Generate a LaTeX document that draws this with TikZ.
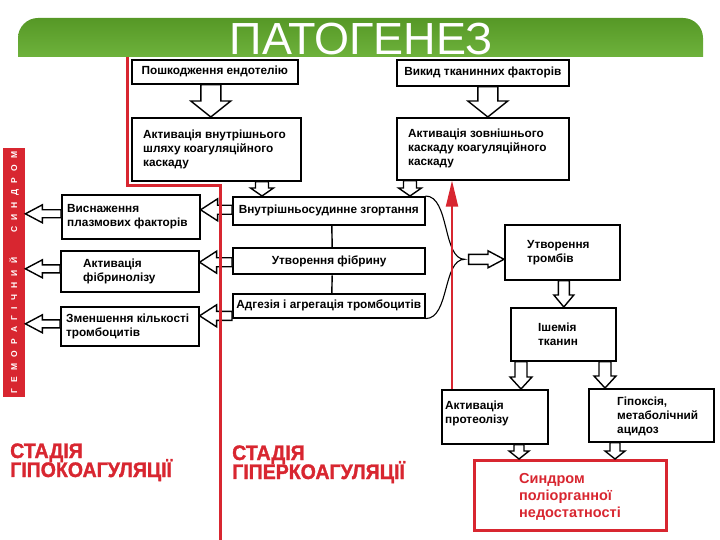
\documentclass[tikz,border=0pt]{standalone}
\usepackage{fontspec}
\setmainfont{Liberation Sans}
\newfontfamily\narrowbold[FakeStretch=0.93, FakeBold=1.5]{Liberation Sans Bold}
\usetikzlibrary{calc,arrows.meta}
\definecolor{rd}{RGB}{216,38,48}
\definecolor{gtop}{RGB}{86,152,38}
\definecolor{gbot}{RGB}{110,178,60}
\tikzset{
  bx/.style={draw, line width=1.6pt, anchor=north west, inner sep=0pt,
    font=\bfseries\fontsize{11.8}{14}\selectfont},
  btxt/.style={anchor=west, align=left, inner sep=0pt,
    font=\bfseries\fontsize{11.8}{14}\selectfont},
  holl/.style={draw, fill=white, line width=1.4pt, line join=miter},
  stage/.style={anchor=base west, inner sep=0pt, text=rd,
    font=\narrowbold\fontsize{21}{21}\selectfont},
  redline/.style={draw=rd, line width=3pt},
}
\newcommand\hollowshape[3]{%
  \path ($(hB)!#3!(hA)$) coordinate (hH);
  \draw[holl] ($(hA)!#1!90:(hB)$) -- ($(hH)!#1!90:(hB)$) -- ($(hH)!#2!90:(hB)$)
    -- (hB) -- ($(hH)!#2!-90:(hB)$) -- ($(hH)!#1!-90:(hB)$) -- ($(hA)!#1!-90:(hB)$) -- cycle;}
\newcommand\harrv[5]{\path #1 coordinate (hA); \path (hA |- #2) coordinate (hB); \hollowshape{#3}{#4}{#5}}
\newcommand\harrh[5]{\path #1 coordinate (hA); \path (hA -| #2) coordinate (hB); \hollowshape{#3}{#4}{#5}}
\begin{document}
\begin{tikzpicture}[x=1pt,y=-1pt]
\useasboundingbox (0,0) rectangle (720,540);
% banner
\begin{scope}
  \clip (0,0) rectangle (720,57);
  \clip[rounded corners=20pt] (18,18) rectangle (703,100);
  \shade[top color=gtop,bottom color=gbot] (18,18) rectangle (703,57);
\end{scope}
\node[anchor=base, inner sep=0pt, text=white, font=\fontsize{45}{45}\selectfont] (title) at (361,55) {ПАТОГЕНЕЗ};

% left red bar
\node[fill=rd, anchor=north west, minimum width=22pt, minimum height=249pt, inner sep=0pt] (bar) at (3,148) {};
\node[rotate=90, text=white, inner sep=0pt, font=\bfseries\fontsize{8.5}{9}\selectfont] (bartxt) at (bar.center)
  {\makebox[242pt][s]{Г\hfill Е\hfill М\hfill О\hfill Р\hfill А\hfill Г\hfill І\hfill Ч\hfill Н\hfill И\hfill Й\hfill\hfill\hfill\hfill С\hfill И\hfill Н\hfill Д\hfill Р\hfill О\hfill М}};

% boxes
\node[bx, minimum width=166pt, minimum height=24pt] (pe) at (131,59) {Пошкодження ендотелію};
\node[bx, minimum width=172pt, minimum height=26pt] (vt) at (396,59) {Викид тканинних факторів};
\node[bx, minimum width=169pt, minimum height=63pt] (ai) at (131,117) {};
\node[btxt] (aitx) at ($(ai.west)+(12,0)$) {Активація внутрішнього\\шляху коагуляційного\\каскаду};
\node[bx, minimum width=172pt, minimum height=62pt] (az) at (396,117) {};
\node[btxt] (aztx) at ($(az.west)+(12,0)$) {Активація зовнішнього\\каскаду коагуляційного\\каскаду};
\node[bx, minimum width=192pt, minimum height=28pt] (vz) at (232,196) {Внутрішньосудинне згортання};
\node[bx, line width=2.4pt, minimum width=192pt, minimum height=26pt] (uf) at (232,247) {Утворення фібрину};
\node[bx, minimum width=192pt, minimum height=24pt] (ad) at (232,293) {Адгезія і агрегація тромбоцитів};
\node[bx, minimum width=138pt, minimum height=44pt] (vp) at (61,194) {};
\node[btxt] (vptx) at ($(vp.west)+(6,0)$) {Виснаження\\плазмових факторів};
\node[bx, minimum width=138pt, minimum height=41pt] (af) at (60,250) {};
\node[btxt] (aftx) at ($(af.west)+(23,0)$) {Активація\\фібринолізу};
\node[bx, minimum width=138pt, minimum height=39pt] (zk) at (60,306) {};
\node[btxt] (zktx) at ($(zk.west)+(6,0)$) {Зменшення кількості\\тромбоцитів};
\node[bx, minimum width=115pt, minimum height=55pt] (ut) at (504,224) {};
\node[btxt] (uttx) at ($(ut.west)+(23,0)$) {Утворення\\тромбів};
\node[bx, minimum width=105pt, minimum height=53pt] (it) at (510,307) {};
\node[btxt] (ittx) at ($(it.west)+(28,0)$) {Ішемія\\тканин};
\node[bx, minimum width=106pt, minimum height=54pt] (pr) at (441,389) {};
\node[btxt] (prtx) at ($(pr.west)+(4,-3)$) {Активація\\протеолізу};
\node[bx, minimum width=125pt, minimum height=53pt] (gp) at (588,388) {};
\node[btxt] (gptx) at ($(gp.west)+(29,1)$) {Гіпоксія,\\метаболічний\\ацидоз};
\node[bx, draw=rd, line width=3pt, minimum width=192pt, minimum height=70pt] (sp) at (473,459) {};
\node[btxt, text=rd, font=\bfseries\fontsize{14.5}{17}\selectfont] (sptx) at ($(sp.west)+(46,1)$) {Синдром\\поліорганної\\недостатності};

% connecting lines and brace
\draw[line width=1.4pt] ($(vz.south)+(3,0)$) -- ($(uf.north)+(3,0)$);
\draw[line width=1.4pt] ($(uf.south)+(3,0)$) -- ($(ad.north)+(3,0)$);
\coordinate (brtip) at ($(vz.north east)!0.5!(ad.south east)+(39,2)$);
\draw[line width=1.1pt] (vz.north east) .. controls +(24,0) and +(-22,0) .. (brtip)
  .. controls +(-22,0) and +(24,0) .. (ad.south east);

% hollow arrows
\harrv{($(pe.south)+(-4,0)$)}{ai.north}{10pt}{20pt}{16pt}
\harrv{($(vt.south)+(5,0)$)}{az.north}{10pt}{20pt}{16pt}
\harrv{($(ai.south west)+(131,0)$)}{vz.north}{6.5pt}{11.5pt}{8pt}
\harrv{($(az.south west)+(14,0)$)}{vz.north}{6.5pt}{11.5pt}{8pt}
\harrh{($(vz.west)+(0,-1)$)}{vp.east}{4.5pt}{11pt}{17pt}
\harrh{($(uf.west)+(0,1)$)}{af.east}{4.5pt}{11pt}{17pt}
\harrh{($(ad.west)+(0,10)$)}{zk.east}{4.5pt}{11pt}{17pt}
\harrh{($(vp.west)+(0,-3)$)}{bar.east}{4pt}{9pt}{17pt}
\harrh{($(af.west)+(0,-2.5)$)}{bar.east}{4pt}{9pt}{17pt}
\harrh{($(zk.west)+(0,-2.5)$)}{bar.east}{4pt}{9pt}{17pt}
\harrh{($(brtip)+(4,0)$)}{ut.west}{5pt}{8.5pt}{16pt}
\harrv{($(ut.south)+(1.5,0)$)}{it.north}{5.5pt}{10pt}{12pt}
\harrv{($(it.south west)+(11,0)$)}{pr.north}{6pt}{11pt}{12pt}
\harrv{($(it.south west)+(95,0)$)}{gp.north}{6pt}{11pt}{12pt}
\harrv{($(pr.south west)+(78,0)$)}{sp.north}{5pt}{10pt}{8pt}
\harrv{($(gp.south west)+(27,0)$)}{sp.north}{5pt}{10pt}{8pt}

% red lines
\draw[redline] (127,57) -- (127,186) -- (220,186) -- (220,540);
\coordinate (rs) at ($(pr.north west)+(11,0)$);
\coordinate (re) at (rs |- az.south);
\draw[draw=rd, line width=2pt, -{Triangle[length=26pt,width=12pt]}, rd] (rs) -- (re);

% stage labels
\node[stage] (s1a) at (10,458) {СТАДІЯ};
\node[stage] (s1b) at (10,477) {ГІПОКОАГУЛЯЦІЇ};
\node[stage] (s2a) at (232,460) {СТАДІЯ};
\node[stage] (s2b) at (232,479) {ГІПЕРКОАГУЛЯЦІЇ};
\end{tikzpicture}
\end{document}
